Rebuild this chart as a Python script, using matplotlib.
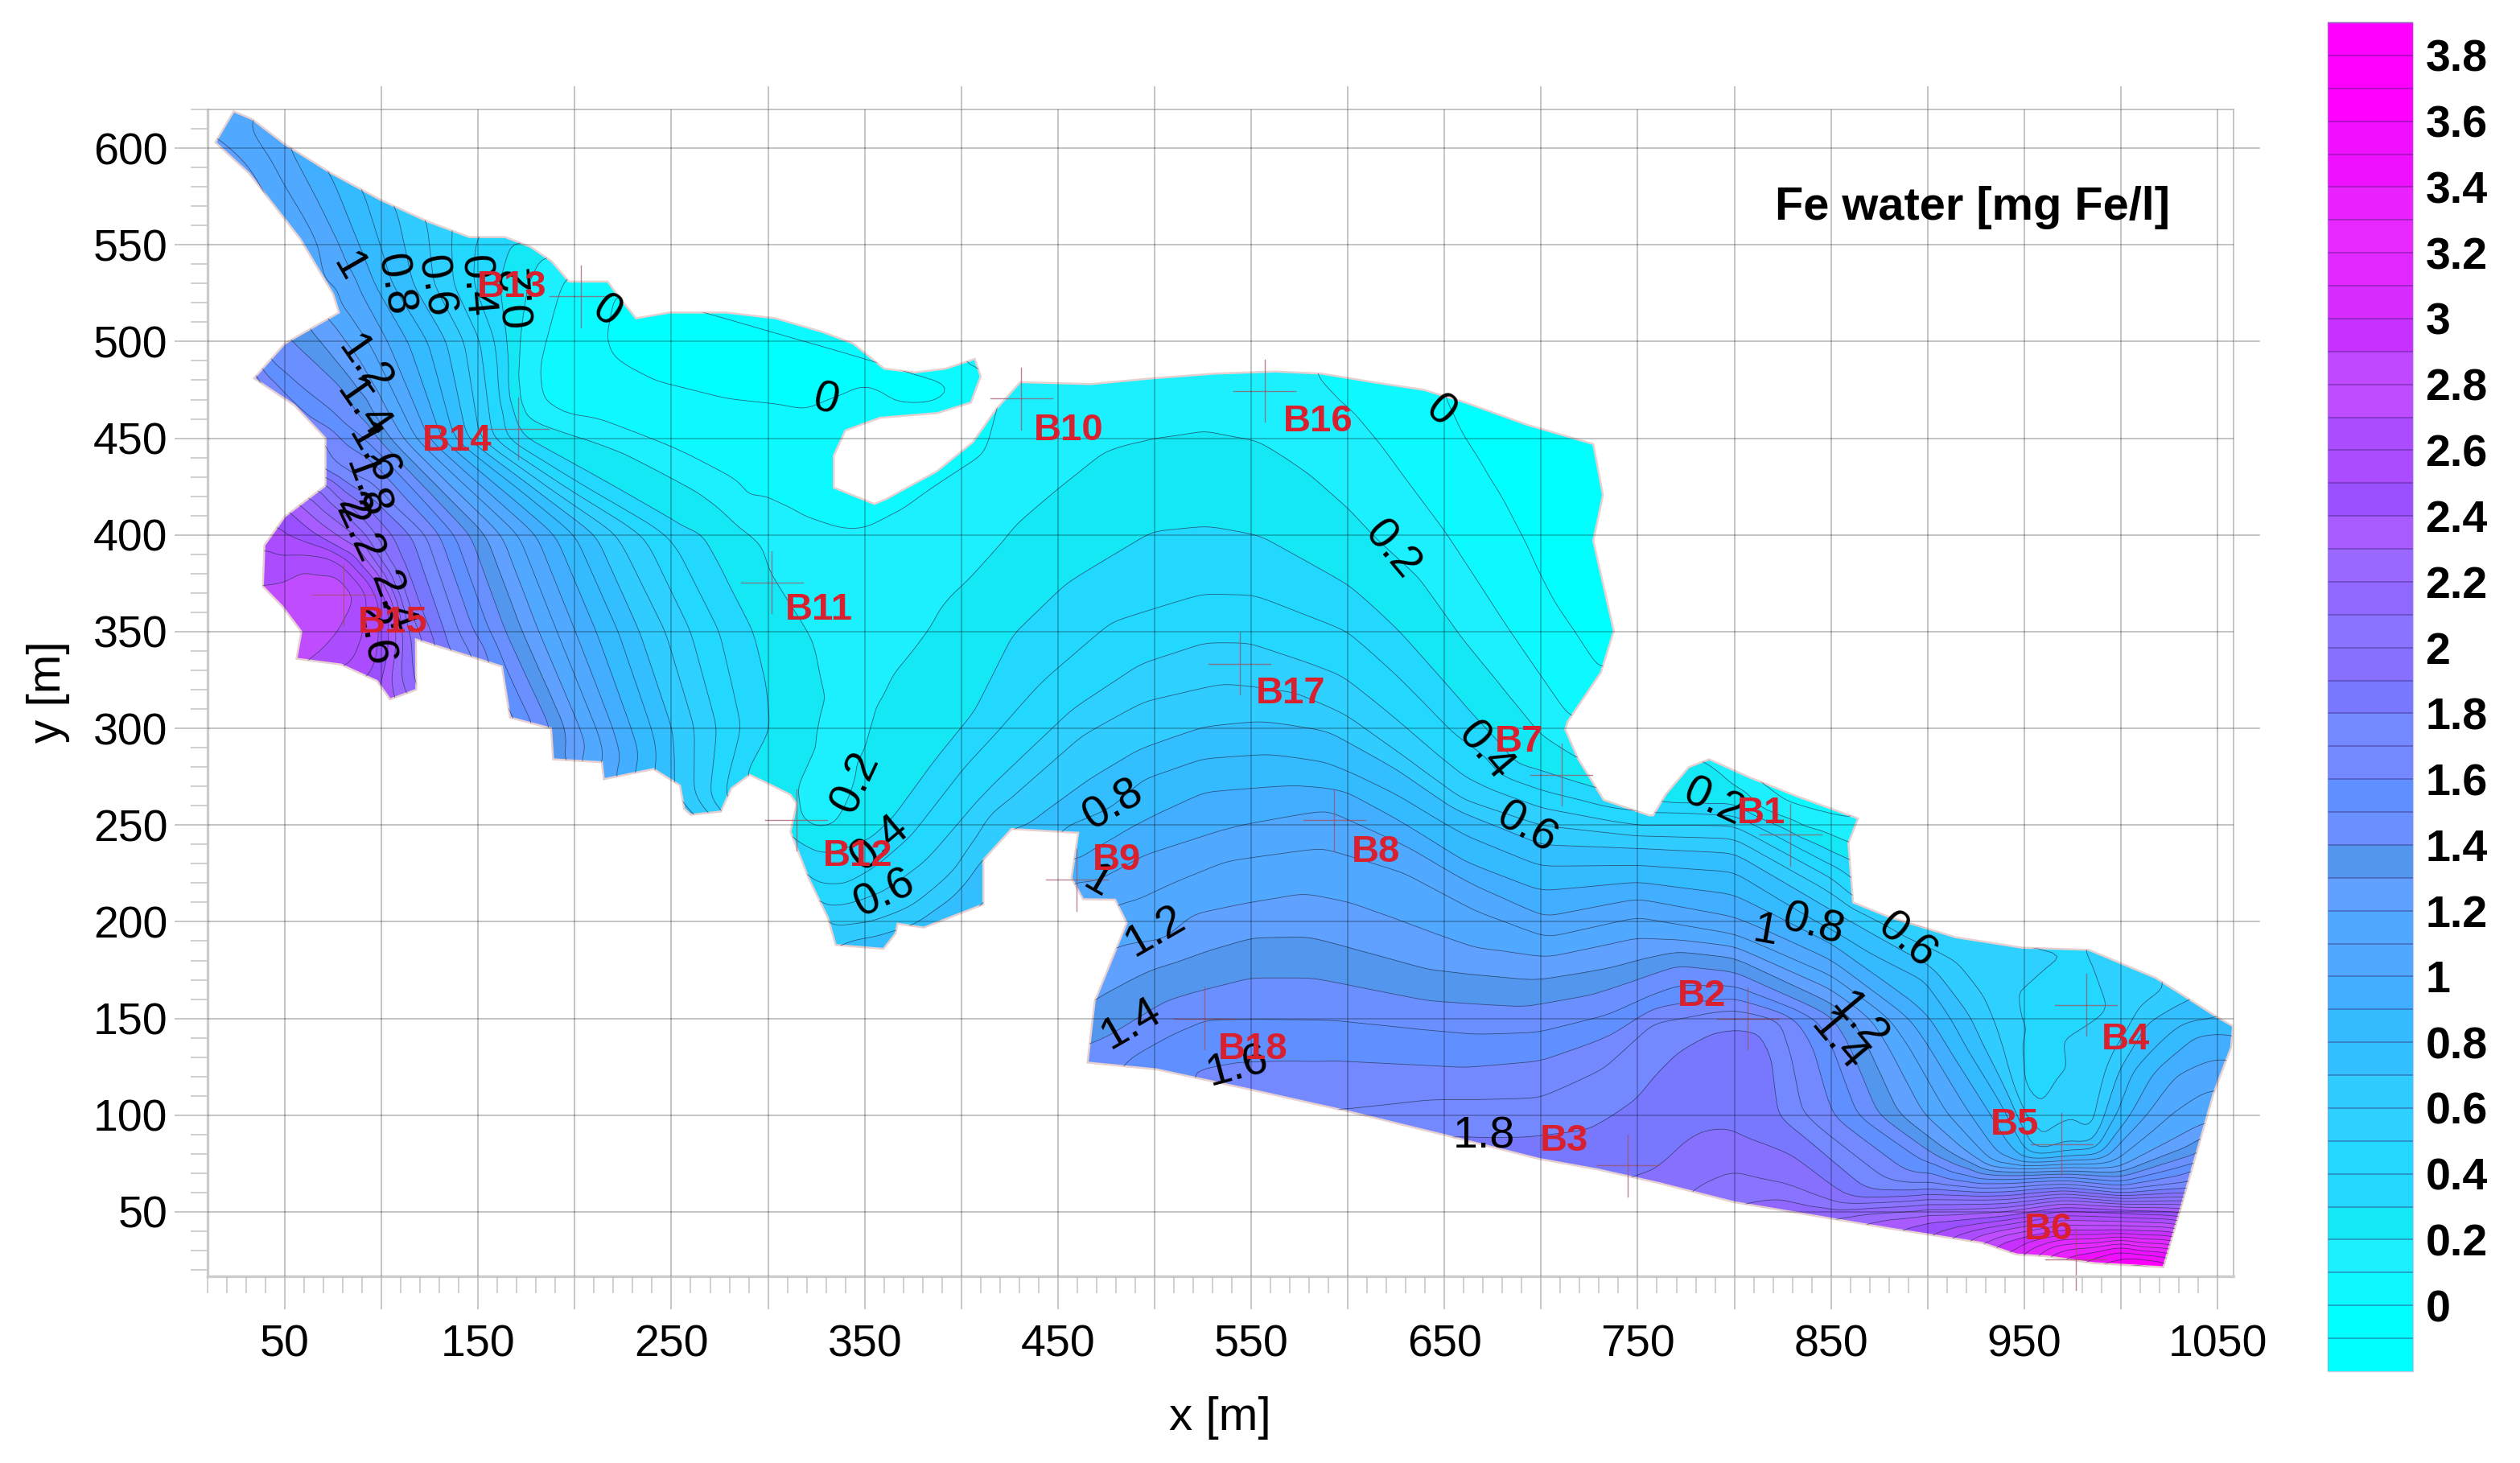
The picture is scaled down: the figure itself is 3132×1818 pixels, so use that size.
import numpy as np
import matplotlib
matplotlib.use("Agg")
import matplotlib.pyplot as plt
import matplotlib.tri as mtri
from matplotlib.colors import ListedColormap, BoundaryNorm
from matplotlib.cm import ScalarMappable
from matplotlib.patches import Polygon
from matplotlib.ticker import MultipleLocator, NullFormatter

plt.rcParams['font.family'] = ['Liberation Sans', 'DejaVu Sans']

# ---- shoreline of the water body (x, y in m)
shore = [(23.5,619),(33,615),(50,602),(74,587),(100,573),(124,562),(145.5,554),(164,554),(177,549),(188,541.5),
 (197,531),(217,531),(223.6,522),(231.7,512),(249,515),(278,515),(304,512),(328,505),(344,499),(360,486),(376,484),
 (392,486),(407,491),(410,482),(405,468.5),(387.5,463),(358,460.6),(340,454),(334,441),(334,424.5),(355,416),
 (361,418.5),(387.5,433),(406,448),(418,465),(430.5,479),(467,478),(499,481),(531,483.4),(562.6,484.5),(586.5,483.4),
 (613,479),(639.5,475),(660.7,468.5),(692.6,457),(727,447),(732,420.6),(727,397),(737.6,350.4),(731,329),(713.8,303.6),
 (712.5,299.4),(719,284.5),(732.4,263),(756,255),(758,255),(764.6,266),(776.5,280),(787,284),(808,274.6),(832,265),
 (864,253.4),(859,240.7),(861.4,210),(880,202.5),(914.5,192),(949,186.6),(983.4,185.5),(1018,171),(1050,150.6),
 (1058,146),(1057,135),(1048,111.4),(1039,80),(1031,52),(1022,21.4),(986,23.5),(962,27),(946,28),(928,34),(880,41.5),
 (800,55),(760.6,65),(729,72),(699,77.4),(651.4,89.4),(600,102),(550.7,113),(501,123.7),(465.3,127.2),(469,158.8),
 (485.6,199.4),(479.6,211.4),(463,211.7),(457,222.6),(460.5,246),(426,248),(411.4,232),(411.4,209),(380.6,197),
 (367,199),(366,194),(359.7,186),(335,188),(331,202),(321,222.6),(311.6,246.6),(314.8,261),(311.6,265.7),(302,270.5),
 (290.5,276),(281,269),(275.6,257),(260,255.3),(256.6,258.5),(254.4,270.5),(240.7,279),(215,273.7),(214,282.5),
 (188.8,284),(187.7,300),(166.5,305.6),(162.3,332),(117.8,346),(118,320),(104.4,315),(97.7,324.5),(79,333),(56,336),
 (58.5,350),(48.7,363),(38.6,373.4),(39.4,394.7),(50,409.6),(71,425.5),(71,450),(55,467),(34,481),(50,499),(78,515),
 (75,524.5),(58,553),(31.4,587),(14,603)]

# ---- isolines: (x, y) at a given Fe value
iso_00 = [(220,529),(214.5,501),(217,490),(238,480),(278,470),(318,466),(342,474.5),(360,486),
          (648,474),(656.8,453.6),(679,418.5),(706,365.3),(731,327)]
iso_01 = [(194.6,533),(192,528),(173,463),(211.8,458.5),(251.6,443.6),(304.6,416),(336.5,405),(350,405),(368,413.6),(379,425),
          (586.5,482),(607.7,459),(650,401.5),(682,352.5),(713.8,305.7)]
iso_02 = [(184,546),(176,530),(170.7,503),(168,471),(182.6,458.5),(225,443.6),(264.8,422.3),(296.7,394.7),(300,382),(323,345.5),
          (328.6,316.7),(323,291),(316,269),(314,253),(323,247.4),(336,249),(350,289.6),(353,302.4),(365.7,331),(393,366),(429,406),
          (448.5,422.8),(472.4,442),(499,450.4),(528,454),(554.6,449.4),(573,437.7),(600,414),(615.6,397),(637,378),(658,348),
          (700,297),(719,284),(760,265),(787,262),(835,251),(860,240)]
iso_03 = [(167,550),(161,530),(165,500),(172,450),(206.8,430.8),(251.6,405),(266,400),(291.5,350),(298,323),(300,300),(287.3,277),
          (313.8,243),(327.5,235.4),(353,242),(365.7,253),(384.7,278.5),(408,307),(427,348),(454,374),(499,401.5),(528,404),
          (554.6,399),(600,374),(626,350),(650,323),(687,280),(700,277),(725,270),(768,262),(800,262),(850,236),(860,232)]
iso_04 = [(148,553),(147,530),(159,500),(164.6,450),(205,425),(249,400),(274.6,350),(286,300),(276.7,262),
          (323,219.5),(340,218),(355,228),(374,245),(400.8,280),(440.6,322.8),(477.7,354.7),(525.5,369),(552,368.5),(600,350.4),
          (626,327),(655.4,297),(671,287),(679,276),(700,268),(740,258),(800,256),(850,229)]
iso_05 = [(136,556),(137,530),(151,500),(157,450),(195,425),(236,400),(259.7,350),(273.5,300),(269.3,258.5),
          (329.7,208),(339,209),(359,215.5),(380.5,230.6),(419,272),(459,310),(493.6,333),(525.5,344),(549,344),(597,327),
          (626,303.6),(660.7,274),(700,259),(750,249),(800,250),(850,223),(862,211),
          (925,185),(945,150),(950,110),(958,90),(966,110),(970,138),(978,120),(985,93)]
iso_06 = [(124,560.6),(127,530),(143,500),(151,450),(185,425),(221.6,400),(247,350),(262,300),(262,257.7),
          (331.8,197),(353,198.7),(376,208),(397.5,226),(414,255),(462,297),(493.6,314),(536,323),(573,318.5),(600,305.7),
          (639.5,276),(660.7,261),(700,250),(750,245),(800,243),(850,215),(875,200),(890,191),(914,181),(930,162),(940,133),
          (946,105),(952,88),(962,95),(970,108),(978,100),(985,92),(994,122),(1010,154),(1028,166.6)]
iso_07 = [(108,567),(116,530),(133.6,500),(144,450),(178,425),(211,400),(233,350),(250,300),(252.3,272),
          (375,198),(395,213),(411,233),(435,250),(467,274),(493.6,289),(525.5,300.4),(554.6,303.6),(589,299.4),(626,280),
          (653,261),(700,240),(750,238.6),(800,236),(850,207),(880,190),(900,178),(922,150),(929,135),(949,100),(958,82),
          (969.4,85),(985,84),(990,100),(998,122),(1012,148),(1035,160)]
iso_08 = [(91,575.5),(105,530),(124,500),(137.5,450),(170,425),(200,400),(222.7,350),(239.6,300),(245,276.8),
          (462,252),(478,259),(493.6,274),(525.5,284.5),(560,286.6),(589,282),(626,265),(660.7,245),(700,229),(750,229),(800,226),
          (840,200),(870,183),(900,170),(912,150),(920,135),(942,100),(955,78),(970,80),(985,82),(998,100),(1005,122),(1030,146),(1052,150)]
iso_09 = [(74,586),(96,530),(113.7,500),(131,450),(160,425),(190,400),(211,350),(229,300),(236.4,278.4),
          (462,232),(467,235.5),(485.7,248),(525.5,267.4),(573,270.6),(600,267.4),(626,252.5),(660.7,230),(700,216),(750,220.5),
          (800,214),(850,190),(901,150),(910.5,135),(933,100),(948,75),(970,78),(990,80),(1005,100),(1017,122),(1040,143),(1057,143)]
iso_10 = [(52.6,600),(84.5,538),(103,500),(124,450),(152,425),(180,400),(200,350),(219.5,300),(225.8,276.8),
          (458,222),(470,221),(494,234.5),(546,250),(589,258.5),(630,240),(666,219),(702,202),(750,212),(800,202),(815,196),
          (850,180),(890.6,150),(901,135),(922.4,100),(940,73),(970,76),(990,77),(1013,100),(1029,122),(1052,130)]
iso_11 = [(29,614),(70,530),(93,500),(117.6,450),(144,425),(171,400),(191,350),(211,300),(218.4,275),
          (478,205),(482,208),(537,232),(587,238.5),(630,226),(666,206.6),(704,192),(750,202.5),(800,193),(850,172),(880,150),
          (890.6,135),(910.5,100),(935,74),(970,74),(995,74),(1025,100),(1050,116)]
iso_12 = [(82,500),(90,490),(111,450),(136,425),(162,400),(181,350),(202.5,300),(211,283),
          (484,188),(505,190),(520,204),(577,214.6),(601,210),(666,186),(704,182),(750,192),(800,187),(850,165),(870.7,150),
          (880,135),(898.5,100),(930,72),(970,72),(1000,72),(1043,95)]
iso_13 = [(68,500),(104,450),(129,425),(154,400),(173,350),(195,300),(196,283),
          (469,160),(499,176),(551,192),(580,192),(642,175),(697,170),(737,176),(771,185),(800,182),(850,158),(861,150),
          (869,135),(885,100),(925,70),(970,71),(1000,70),(1040,85)]
iso_14 = [(55,500),(89,471),(98,450),(122,425),(146,400),(164,350),(187.7,300),(188.8,288),
          (472,138),(506,159),(549,171),(582,171),(642,159),(690,156),(725,162),(771,178),(800,174),(851,150),(860,135),
          (874.7,100),(915,71),(970,70),(1000,68),(1039,80)]
iso_15 = [(40,490),(91,450),(115,425),(138,400),(156,350),(175,308),
          (483,127),(525,150),(534,150),(594,149),(666,142),(699,143),(736,152),(770.7,167),(800,167),(843,150),(851,135),
          (864,100),(900,76),(940,68),(970,69),(1000,66),(1037,75)]
iso_16 = [(55,467),(85,445),(95,441),(130,400),(147.5,350),(161,333),
          (544,127),(594,128.5),(660,124.5),(700,128.5),(736,141),(760,155.6),(800,160),(832,150),(841.5,135),(851,100),
          (890,70),(930,64),(970,67),(1000,63),(1036,70)]
iso_17 = [(68,443),(123,400),(140,350),(148,337),
          (600,102.5),(642,107.7),(699,109),(732.6,125),(756,149),(800,155),(824,150),(827,135),(835,100),
          (880,66),(930,61),(970,64),(1000,60),(1035,65)]
iso_18 = [(70,432),(92,424),(116,400),(132.6,350),(135,342),
          (670,89),(692,89),(725.4,93),(749,109),(768,133),(790,147),(814,147),(822,130),(824,100),
          (870,60),(930,59),(970,62),(1000,59),(1034,61)]
iso_19 = [(106,400),(125,350),(127,344),(760,70),(780,92),(800,91),(830,80),(860,56),(930,58),(970,61),(1000,58)]
iso_20 = [(72,424),(85,414),(96,400),(118,350),(780,62),(800,70),(830,62),(855,52),(900,58),(940,57),(970,60),(1000,57),(1033,58)]
iso_22 = [(60,420),(87,400),(103,380),(110,360),(110,340),(108,322),(830,50),(880,50),(940,52),(970,56),(1000,54),(1032,54)]
iso_24 = [(50,416),(66,400),(95,380),(105,365),(105,345),(102,322),(882,44),(940,48),(970,53),(1000,52),(1031,50)]
iso_25 = [(50,400),(85,388),(99,365),(99,345),(97,325),(895,39),(940,46),(970,51),(1000,50),(1030,48)]
iso_26 = [(40.7,388.3),(74,390.4),(92,371),(92,355),(86,333)]
iso_27 = [(40.7,374.5),(79,381),(88.5,369),(79,350),(66,336)]
iso_30 = [(940,33),(970,38),(1000,38),(1028,38)]
iso_35 = [(970,27),(1000,28),(1025,27)]

iso_values = [0.0,0.1,0.2,0.3,0.4,0.5,0.6,0.7,0.8,0.9,1.0,1.1,1.2,1.3,1.4,1.5,1.6,1.7,1.8,1.9,2.0,2.2,2.4,2.5,2.6,2.7,3.0,3.5]
iso_lines = [iso_00,iso_01,iso_02,iso_03,iso_04,iso_05,iso_06,iso_07,iso_08,iso_09,iso_10,iso_11,iso_12,iso_13,iso_14,
             iso_15,iso_16,iso_17,iso_18,iso_19,iso_20,iso_22,iso_24,iso_25,iso_26,iso_27,iso_30,iso_35]

# ---- single readings of Fe at other spots: (x, y, value)
spot_north = [(260,500,-.05),(300,495,-.05),(720,420,-.05),(725,380,-.05),(700,440,-.04),(430,479,.13),(467,478,.14),
              (530,483,.14),(562,484,.12),(620,478,.02),(690,456,-.03),(727,447,-.03),(737,350,-.03),(390,480,-.02),
              (330,440,.02),(345,455,.02),(240,510,-.03)]
spot_mid = [(340,300,.16),(335,270,.16),(328,255,.17),(345,330,.15),(335,360,.14),(350,380,.12),(320,385,.13),(400,400,.13),
            (370,350,.15),(420,430,.14),(450,450,.15),(500,468,.15),(550,467,.14),(570,455,.14),(290,420,.08),(250,460,.05)]
spot_b1 = [(732,263,.35),(756,255,.4),(776,280,.22),(787,284,.2),(808,274,.12),(832,265,.05),(862,254,.08),(835,248,.15)]
spot_east = [(880,202,.55),(914,192,.55),(949,186,.52),(983,185,.5),(965,179,.5),(1018,171,.58),(1058,146,.78),(1048,111,1.12),
             (1039,80,1.4),(1031,52,2.4),(1022,21.5,3.85),(982,157,.45),(960,130,.45),(995,155,.5),(955,120,.45),(1000,165,.55),
             (1000,30,3.6)]
spot_south = [(940,70,1.5),(940,50,2.3),(900,70,1.65),(900,50,2.3),(850,70,1.85),(850,50,2.2),(805,120,1.85),(800,56,2.12),
              (880,45,2.4),(925,38,2.7),(946,32,3.0),(962,30,3.3),(986,24,3.7),(1005,22,3.9),(465,127,1.45),(501,124,1.58),
              (550,113,1.68),(650,89,1.82),(699,77,1.85),(729,72,1.87),(760,65,1.95)]
spot_inlet = [(485,199,1.15),(480,211,1.1),(463,212,1.05),(457,222,1.0),(460,246,.85),(426,248,.72),(411,232,.72),(411,209,.8),
              (380,197,.75),(360,186,.8),(335,188,.72),(302,270,.22),(290,276,.28),(281,269,.35),(215,273,1.05)]
spot_west = [(23,619,1.15),(14,603,1.22),(31,587,1.22),(58,553,1.17),(75,524,1.15),(78,515,1.15),(34,481,1.7),(71,450,1.75),
             (71,425,2.15),(50,409,2.45),(39,394,2.62),(38.6,373,2.72),(48.7,363,2.76),(58,350,2.76),(56,336,2.72),(79,333,2.62),
             (97.7,324,2.45),(104,315,2.35),(118,320,2.1),(118,346,2.05),(65,365,2.78),(80,369,2.76),(60,380,2.74)]

# ---- colour bar
band_colors = ['#00ffff','#00ffff','#0cfaff','#1cf0ff','#14e8f5','#22d8ff','#22d8ff','#2ed0ff','#30ccff','#33beff','#33baff',
 '#42aeff','#50a8ff','#50a8ff','#60a0ff','#5296ee','#6a90ff','#6090ff','#7488ff','#7488ff','#7878ff','#8870ff','#8a74ff',
 '#9068ff','#9a68ff','#a85cff','#9a50ff','#ac4cff','#ac4cff','#c04cff','#c048ff','#c830ff','#d82cff','#e028ff','#e828ff',
 '#ea22ff','#ee10ff','#f010ff','#ff00ff','#ff00ff','#ff00ff']
level_lo, level_hi, level_n = -0.2, 3.9, 42
bar_ticks = [0,0.2,0.4,0.6,0.8,1,1.2,1.4,1.6,1.8,2,2.2,2.4,2.6,2.8,3,3.2,3.4,3.6,3.8]
bar_labels = ['0','0.2','0.4','0.6','0.8','1','1.2','1.4','1.6','1.8','2','2.2','2.4','2.6','2.8','3','3.2','3.4','3.6','3.8']

# ---- sampling stations
station_names = ['B1','B2','B3','B4','B5','B6','B7','B8','B9','B10','B11','B12','B13','B14','B15','B16','B17','B18']
station_x = [829,807,745,982,969.4,976.7,710.6,593,459.7,431,302,314.6,203,170.7,80.5,557,544,526]
station_y = [245,150,74,157,85,25.6,276,252.5,221.7,470.6,375.5,252.6,523.4,455,369,474.5,333.4,150]
name_x = [814,783,712,1002.5,945,962.6,688.6,614.5,480.5,455.5,326.4,346.4,167.4,139,105.8,584.6,570.4,551]
name_y = [256,161.5,86.6,139,95,41,293,236,232,454,361,234,528,448.5,354.5,458.5,318,134]

# ---- isoline captions
cap_text = ['0','0','0','0.2','1','0.8','0.6','0.4','0.2','1.2','1.4','1.6','1.8','2','2.2','2.4','2.6',
            '0.2','0.4','0.6','0.8','1','1.2','1.4','1.6','1.8','0.4','0.6','0.2','1','0.8','0.6','1.2','1.4']
cap_x = [216.5,329.8,647.8,622.9,82.5,106.6,127.4,148.3,171.6,90.8,90,95,92,85,88,105,96,
         345.6,358,360.6,478.8,470.5,500.5,488,543,670.3,671,692.8,789.4,816,841,889.3,864.3,853.5]
cap_y = [515,469.3,463.5,392,538.3,529,528.4,528.4,524,487.6,465,441.5,424.5,414,401,365,348,
         272,240.5,214.7,260.5,220.5,194.8,147,124.9,89,288,248,261.3,194.8,198,189.8,148,137.4]
cap_rot = [-35,-15,-40,-50,-60,-80,-80,-85,95,-55,-55,-60,-70,-60,-65,-70,-80,
           65,40,25,30,-30,30,30,15,0,-50,-30,-25,-10,-15,-40,-50,-50]

# ---- axis ticks
x_major = list(range(50,1051,50))
x_major_labels = [str(v) if (v-50)%100==0 else '' for v in x_major]
y_major = list(range(50,601,50))

W, H = 3132, 1818
fig = plt.figure(figsize=(W/200, H/200), dpi=200)
ax = fig.add_axes([258/W, 1-1586/H, (2776-258)/W, (1586-136)/H])
ax.set_xlim(10, 1058.3)
ax.set_ylim(16.7, 620)

# gather the readings; along an isoline, add points so neighbouring lines stay apart
seen = {}
for v, line in zip(iso_values, iso_lines):
    for (a, b) in zip(line[:-1], line[1:]):
        d = np.hypot(b[0]-a[0], b[1]-a[1])
        if d < 75:
            n = max(int(d/8), 1)
            for t in np.arange(n)/n:
                seen[(round(a[0]+t*(b[0]-a[0]),1), round(a[1]+t*(b[1]-a[1]),1))] = v
    seen[(round(line[-1][0],1), round(line[-1][1],1))] = v
    seen[(round(line[0][0],1), round(line[0][1],1))] = v
for group in (spot_north, spot_mid, spot_b1, spot_east, spot_south, spot_inlet, spot_west):
    for (a, b, v) in group:
        seen.setdefault((round(float(a),1), round(float(b),1)), v)
pts = np.array(list(seen.keys()))
vals = np.array(list(seen.values()))

tri = mtri.Triangulation(pts[:,0], pts[:,1])
gx = np.arange(5, 1066, 2.0)
gy = np.arange(12, 626, 2.0)
GX, GY = np.meshgrid(gx, gy)
raw = mtri.LinearTriInterpolator(tri, vals)(GX, GY)
mask = np.ma.getmaskarray(raw)
data = np.where(mask, 0.0, np.ma.getdata(raw))
wgt = (~mask).astype(float)
k = np.exp(-0.5*(np.arange(-6, 7)/2.0)**2); k /= k.sum()
def blur(a):
    a = np.apply_along_axis(lambda r: np.convolve(r, k, mode='same'), 0, a)
    return np.apply_along_axis(lambda r: np.convolve(r, k, mode='same'), 1, a)
w2 = blur(wgt)
field = np.ma.masked_where(w2 < 1e-3, blur(data*wgt)/np.maximum(w2, 1e-3))

levels = np.linspace(level_lo, level_hi, level_n)
cmap = ListedColormap(band_colors)
cmap.set_under(band_colors[0]); cmap.set_over(band_colors[-1])
norm = BoundaryNorm(levels, cmap.N)

outline = Polygon(shore, closed=True, facecolor='none', edgecolor='#e6d0d0', lw=0.9, zorder=1.5)
ax.add_patch(outline)
clip = Polygon(shore, closed=True, transform=ax.transData)

cf = ax.contourf(GX, GY, field, levels=levels, cmap=cmap, norm=norm, extend='both', zorder=1)
cf.set_clip_path(clip)
cl = ax.contour(GX, GY, field, levels=levels, colors='#20304a', linewidths=0.3, alpha=0.7, zorder=1.6)
cl.set_clip_path(clip)

# grid
grid_alpha = 0.30
ax.set_xticks(x_major, x_major_labels)
ax.set_yticks(y_major, [str(v) for v in y_major])
ax.xaxis.set_minor_locator(MultipleLocator(10))
ax.yaxis.set_minor_locator(MultipleLocator(10))
ax.xaxis.set_minor_formatter(NullFormatter())
ax.yaxis.set_minor_formatter(NullFormatter())
ax.set_axisbelow(False)
ax.tick_params(axis='both', which='major', length=14.8, width=0.55, color='#b8b8b8', labelsize=20, pad=6.5)
ax.tick_params(axis='y', which='major', pad=3)
ax.tick_params(axis='both', which='minor', length=7.6, width=0.55, color='#c4c4c4')
ax.grid(True, which='major', color='black', alpha=grid_alpha, lw=0.55)
for side in ('top', 'right'):
    ax.spines[side].set(color='#b5b5b5', lw=0.55)
for side in ('left', 'bottom'):
    ax.spines[side].set(color='#cccccc', lw=1.2)
for v in x_major:
    if v % 100 == 0:
        ax.plot([v, v], [620, 631.5], color='black', alpha=grid_alpha, lw=0.55, clip_on=False, zorder=2)
for v in y_major:
    if v % 100 == 0:
        ax.plot([1058.3, 1071.5], [v, v], color='black', alpha=grid_alpha, lw=0.55, clip_on=False, zorder=2)

# stations
arm = 16
for sx, sy in zip(station_x, station_y):
    ax.plot([sx-arm, sx+arm], [sy, sy], color='#a05060', alpha=0.7, lw=0.5, zorder=2.5, clip_on=False)
    ax.plot([sx, sx], [sy-arm, sy+arm], color='#a05060', alpha=0.7, lw=0.5, zorder=2.5, clip_on=False)

for t, cx, cy, r in zip(cap_text, cap_x, cap_y, cap_rot):
    ax.text(cx, cy, t, fontsize=20, rotation=r, rotation_mode='anchor', ha='center', va='center', color='black', zorder=3)
for t, cx, cy in zip(station_names, name_x, name_y):
    ax.text(cx, cy, t, fontsize=17, fontweight='bold', ha='center', va='center', color='#d9202e', zorder=4)

fig.text(2451/W, 1-258/H, 'Fe water [mg Fe/l]', fontsize=20.8, fontweight='bold', ha='center', va='center')
fig.text(1516/W, 1-1762/H, 'x [m]', fontsize=21, ha='center', va='center')
fig.text(60/W, 1-860/H, 'y [m]', fontsize=21, rotation=90, ha='center', va='center')

# colour bar
cax = fig.add_axes([2893/W, 1-1704/H, (2999-2893)/W, (1704-28)/H])
cb = fig.colorbar(ScalarMappable(norm=norm, cmap=cmap), cax=cax, spacing='proportional', drawedges=True, boundaries=levels)
cb.set_ticks(bar_ticks, labels=bar_labels)
cb.ax.tick_params(length=0, pad=5.5, labelsize=20)
for lab in cb.ax.get_yticklabels():
    lab.set_fontweight('bold')
cb.dividers.set_color((0.2, 0.1, 0.4, 0.45))
cb.dividers.set_linewidth(0.55)
cb.outline.set_edgecolor((0.6, 0.6, 0.8, 0.5))
cb.outline.set_linewidth(0.5)
cb.minorticks_off()

fig.savefig('out.png', dpi=200)
